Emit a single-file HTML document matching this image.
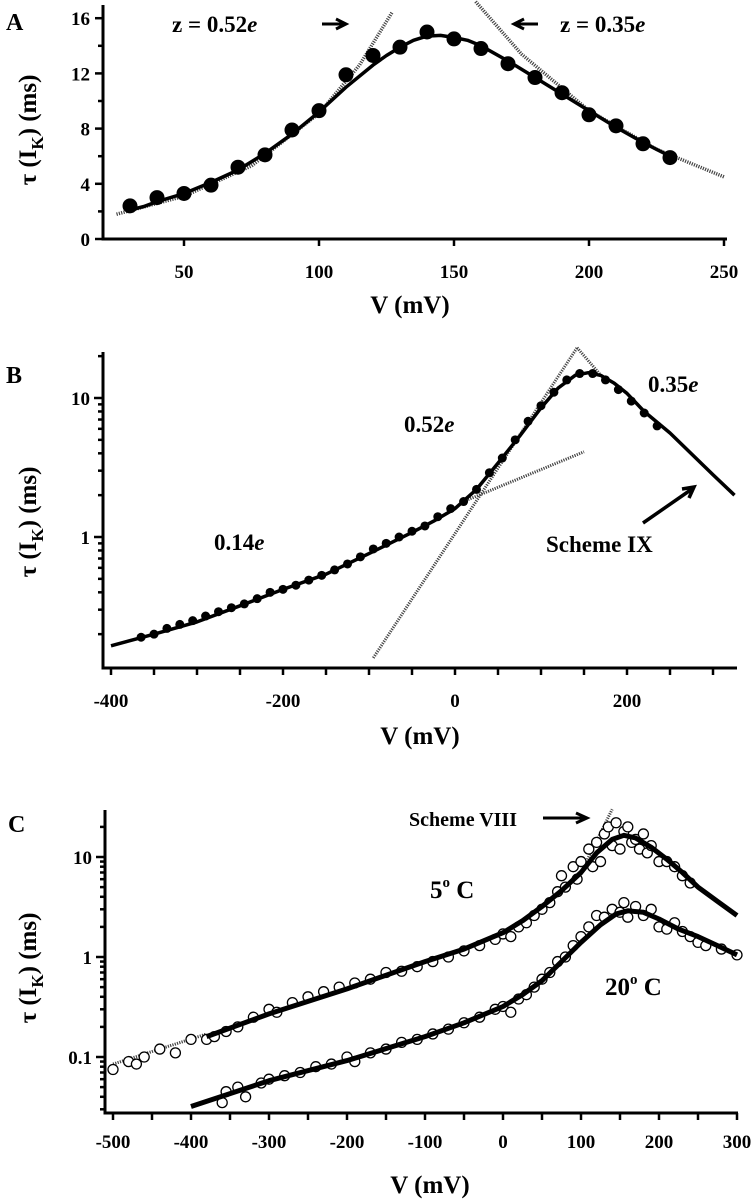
<!DOCTYPE html>
<html><head><meta charset="utf-8"><style>
body{margin:0;background:#fff}
svg{display:block;font-family:"Liberation Serif",serif;font-weight:bold}
</style></head><body>
<svg id="fig" width="756" height="1199" viewBox="0 0 756 1199" xmlns="http://www.w3.org/2000/svg">
<g id="gA"></g>
<g id="gB"></g>
<g id="gC"></g>
</svg>
<script>
// ---------- Panel A data ----------
const aV = [30,40,50,60,70,80,90,100,110,120,130,140,150,160,170,180,190,200,210,220,230];
const aTau = [2.4,3.0,3.3,3.9,5.2,6.1,7.9,9.3,11.9,13.3,13.9,15.0,14.5,13.8,12.7,11.7,10.6,9.0,8.2,6.9,5.9];
const aFitV = [30,35,40,50,60,70,80,90,100,110,120,125,130,135,140,145,150,155,160,170,180,190,200,210,220,230];
const aFit = [2.1,2.35,2.7,3.3,4.1,5.0,6.2,7.6,9.2,11.0,12.6,13.3,13.9,14.4,14.7,14.75,14.6,14.4,14.0,12.9,11.7,10.5,9.3,8.1,7.0,6.0];
const aDotLeftV = [25,50,75,100,115,127];
const aDotLeft = [1.8,3.1,5.3,9.1,12.6,16.4];
const aDotRightV = [158,175,200,225,250];
const aDotRight = [17.2,13.4,9.3,6.5,4.5];
const aXTicks = [50,100,150,200,250];
const aYTicks = [0,4,8,12,16];
// ---------- Panel B data ----------
const bV = [-365,-350,-335,-320,-305,-290,-275,-260,-245,-230,-215,-200,-185,-170,-155,-140,-125,-110,-95,-80,-65,-50,-35,-20,-5,10,25,40,55,70,85,100,115,130,145,160,175,190,205,220,235];
const bTau = [0.19,0.2,0.22,0.235,0.25,0.27,0.29,0.31,0.33,0.36,0.40,0.42,0.45,0.49,0.53,0.58,0.64,0.72,0.82,0.9,1.0,1.1,1.2,1.4,1.6,1.8,2.2,2.9,3.7,5.0,6.8,8.8,11,13.5,15,15,13.5,11.5,9.5,7.8,6.3];
const bFitV = [-400,-350,-300,-250,-200,-150,-100,-50,-25,0,25,50,75,100,120,140,155,170,185,200,220,250,300,325];
const bFit = [0.165,0.2,0.245,0.32,0.42,0.54,0.76,1.08,1.3,1.6,2.2,3.4,5.3,8.5,11.8,14.6,15.2,14.5,12.8,10.8,8.0,5.6,2.8,2.0];
const bDot014V = [10,150];
const bDot014 = [1.8,4.1];
const bDot052V = [-95,142];
const bDot052 = [0.135,23];
const bDot035V = [142,172];
const bDot035 = [23,14];
const bXTicks = [-400,-200,0,200];
const bYTicks = [1,10];
// ---------- Panel C data ----------
const c5FitV = [-380,-300,-200,-100,-50,0,25,50,75,100,120,140,155,170,190,210,230,250,275,300];
const c5Fit = [0.16,0.27,0.48,0.9,1.2,1.75,2.3,3.2,4.6,7,11,15,16.5,15.5,12.5,9.5,7,5,3.6,2.6];
const c20FitV = [-400,-300,-200,-100,-50,0,25,50,75,100,125,145,160,180,200,225,250,275,300];
const c20Fit = [0.032,0.058,0.092,0.16,0.22,0.32,0.42,0.58,0.9,1.4,2.1,2.7,2.9,2.8,2.4,1.9,1.6,1.3,1.05];
const c5Open = [[-500,.075],[-480,.09],[-470,.085],[-460,.1],[-440,.12],[-420,.11],[-400,.15],[-380,.15],[-370,.16],[-355,.18],[-340,.2],[-320,.25],[-300,.3],[-290,.28],[-270,.35],[-250,.4],[-230,.45],[-210,.5],[-190,.55],[-170,.6],[-150,.7],[-130,.72],[-110,.8],[-90,.9],[-70,1.0],[-50,1.15],[-30,1.3],[-10,1.5],[0,1.7],[10,1.6],[20,2.0],[30,2.2],[40,2.6],[50,3.0],[60,3.5],[70,4.5],[75,6.5],[80,5],[90,8],[95,6],[100,9],[110,12],[115,8],[120,14],[125,9],[130,17],[135,20],[140,13],[145,22],[150,12],[155,18],[160,20],[165,14],[170,15],[175,12],[180,17],[185,11],[190,13],[200,9],[210,9],[220,8],[230,6.5],[240,5.5]];
const c20Open = [[-360,.035],[-355,.045],[-340,.05],[-330,.04],[-310,.055],[-300,.06],[-280,.065],[-260,.07],[-240,.08],[-220,.085],[-200,.1],[-190,.09],[-170,.11],[-150,.12],[-130,.14],[-110,.15],[-90,.17],[-70,.19],[-50,.22],[-30,.25],[-10,.3],[0,.32],[10,.28],[20,.38],[30,.42],[40,.5],[50,.6],[60,.7],[70,.9],[80,1.0],[90,1.3],[100,1.6],[110,2.0],[120,2.6],[130,2.5],[140,3.0],[150,2.8],[155,3.5],[160,2.5],[170,3.2],[180,2.6],[190,3.0],[200,2.0],[210,1.9],[220,2.2],[230,1.8],[240,1.6],[250,1.4],[260,1.3],[280,1.2],[300,1.05]];
const cDotLowV = [-500,-380];
const cDotLow = [0.085,0.17];
const cDotHighV = [100,140];
const cDotHigh = [7,30];
const cXTicks = [-500,-400,-300,-200,-100,0,100,200,300];
const cYTicks = [0.1,1,10];

const NS = "http://www.w3.org/2000/svg";
function mk(parent, tag, attrs, text){
  const e = document.createElementNS(NS, tag);
  for (const k in attrs) e.setAttribute(k, attrs[k]);
  if (text !== undefined) e.textContent = text;
  parent.appendChild(e);
  return e;
}
function pathFrom(xs, ys, sx, sy){
  return xs.map((v,i)=>(i?'L':'M')+sx(v).toFixed(1)+','+sy(ys[i]).toFixed(1)).join(' ');
}
function yTitle(g, cx, cy){
  const t = mk(g,'text',{x:cx,y:cy,transform:`rotate(-90 ${cx} ${cy})`,'text-anchor':'middle','font-size':25});
  
  
  t.innerHTML = 'τ (I<tspan font-size="17" dy="7">K</tspan><tspan dy="-7">) (ms)</tspan>';
}

// ===== Panel A =====
(function(){
  const g = document.getElementById('gA');
  const x = v => 184 + (v-50)*2.7;
  const y = t => 239 - t*13.8;
  const ax = mk(g,'path',{d:'M103,5 L103,239 L727,239',fill:'none',stroke:'#000','stroke-width':3});
  
  
  for (let t=0;t<=16;t+=2){ mk(g,'line',{x1:103,x2:t%4?98:95,y1:y(t),y2:y(t),stroke:'#000','stroke-width':2.5}); }
  aYTicks.forEach(t=>{
    const l = mk(g,'text',{x:90,y:y(t)+7,'text-anchor':'end','font-size':19},String(t));
    
    
  });
  aXTicks.forEach(v=>{
    mk(g,'line',{x1:x(v),x2:x(v),y1:239,y2:246,stroke:'#000','stroke-width':2.5});
    const l = mk(g,'text',{x:x(v),y:278,'text-anchor':'middle','font-size':19},String(v));
    
    
  });
  const xt = mk(g,'text',{x:410,y:313,'text-anchor':'middle','font-size':25},'V (mV)');
  
  
  yTitle(g,36,130);
  const pl = mk(g,'text',{x:6,y:30,'font-size':24},'A');
  
  
  const d1 = mk(g,'path',{d:pathFrom(aDotLeftV,aDotLeft,x,y),fill:'none',stroke:'#444','stroke-width':3.5,'stroke-dasharray':'1.2 1.2'});
  
  
  const d2 = mk(g,'path',{d:pathFrom(aDotRightV,aDotRight,x,y),fill:'none',stroke:'#444','stroke-width':3.5,'stroke-dasharray':'1.2 1.2'});
  
  
  const f = mk(g,'path',{d:pathFrom(aFitV,aFit,x,y),fill:'none',stroke:'#000','stroke-width':3.5,'stroke-linejoin':'round'});
  
  
  aV.forEach((v,i)=>{
    const c = mk(g,'circle',{cx:x(v),cy:y(aTau[i]),r:7.5,fill:'#000'});
    
    
  });
  const l1 = mk(g,'text',{x:172,y:32,'font-size':23},''); l1.innerHTML='z = 0.52<tspan font-style="italic">e</tspan>';
  
  
  const l2 = mk(g,'text',{x:560,y:32,'font-size':23},''); l2.innerHTML='z = 0.35<tspan font-style="italic">e</tspan>';
  
  
  mk(g,'path',{d:'M322,24 L344,24 M336,19 L346,24 L336,29',fill:'none',stroke:'#000','stroke-width':3});
  mk(g,'path',{d:'M538,24 L516,24 M524,19 L514,24 L524,29',fill:'none',stroke:'#000','stroke-width':3});
})();

// ===== Panel B =====
(function(){
  const g = document.getElementById('gB');
  const x = v => 455 + v*0.86;
  const y = t => 537 - Math.log10(t)*139;
  const ax = mk(g,'path',{d:'M103,352 L103,668 L737,668',fill:'none',stroke:'#000','stroke-width':3});
  
  
  [0.1,1,10].forEach(dec=>{
    for(let k=1;k<10;k++){ const t=dec*k; const yy=y(t); if(yy<352||yy>668) continue;
      mk(g,'line',{x1:103,x2:k===1?94:98,y1:yy,y2:yy,stroke:'#000','stroke-width':2.5}); }
  });
  bYTicks.forEach(t=>{
    const l = mk(g,'text',{x:90,y:y(t)+7,'text-anchor':'end','font-size':19},String(t));
    
    
  });
  for(let v=-400;v<=300;v+=50) mk(g,'line',{x1:x(v),x2:x(v),y1:668,y2:675,stroke:'#000','stroke-width':2.5});
  bXTicks.forEach(v=>{
    const l = mk(g,'text',{x:x(v),y:707,'text-anchor':'middle','font-size':19},String(v));
    
    
  });
  const xt = mk(g,'text',{x:420,y:744,'text-anchor':'middle','font-size':25},'V (mV)');
  
  
  yTitle(g,36,522);
  const pl = mk(g,'text',{x:6,y:383,'font-size':24},'B');
  
  
  [[bDot014V,bDot014,'asymptote-014e'],[bDot052V,bDot052,'asymptote-052e'],[bDot035V,bDot035,'asymptote-035e']].forEach(([xs,ys,n])=>{
    const p = mk(g,'path',{d:pathFrom(xs,ys,x,y),fill:'none',stroke:'#444','stroke-width':3,'stroke-dasharray':'1.2 1.2'});
    
    
  });
  const f = mk(g,'path',{d:pathFrom(bFitV,bFit,x,y),fill:'none',stroke:'#000','stroke-width':3.5,'stroke-linejoin':'round'});
  
  
  bV.forEach((v,i)=>{
    const c = mk(g,'circle',{cx:x(v),cy:y(bTau[i]),r:4.5,fill:'#000'});
    
    
  });
  [['0.35',648,392,'label-035e'],['0.52',404,432,'label-052e'],['0.14',214,550,'label-014e']].forEach(([s,xx,yy,n])=>{
    const t = mk(g,'text',{x:xx,y:yy,'font-size':23},''); t.innerHTML=s+'<tspan font-style="italic">e</tspan>';
    
    
  });
  const s = mk(g,'text',{x:546,y:552,'font-size':23},'Scheme IX');
  
  
  mk(g,'path',{d:'M643,523 L692,489 M682,489 L694,487 L689,498',fill:'none',stroke:'#000','stroke-width':3.5});
})();

// ===== Panel C =====
(function(){
  const g = document.getElementById('gC');
  const x = v => 503 + v*0.78;
  const y = t => 957 - Math.log10(t)*100;
  const ax = mk(g,'path',{d:'M105,810 L105,1113 L738,1113',fill:'none',stroke:'#000','stroke-width':3});
  
  
  [0.01,0.1,1,10].forEach(dec=>{
    for(let k=1;k<10;k++){ const t=dec*k; const yy=y(t); if(yy<810||yy>1113) continue;
      mk(g,'line',{x1:105,x2:k===1?96:100,y1:yy,y2:yy,stroke:'#000','stroke-width':2.5}); }
  });
  cYTicks.forEach(t=>{
    const l = mk(g,'text',{x:92,y:y(t)+7,'text-anchor':'end','font-size':19},String(t));
    
    
  });
  for(let v=-500;v<=300;v+=50) mk(g,'line',{x1:x(v),x2:x(v),y1:1113,y2:1120,stroke:'#000','stroke-width':2.5});
  cXTicks.forEach(v=>{
    const l = mk(g,'text',{x:x(v),y:1148,'text-anchor':'middle','font-size':19},String(v));
    
    
  });
  const xt = mk(g,'text',{x:430,y:1193,'text-anchor':'middle','font-size':25},'V (mV)');
  
  
  yTitle(g,36,968);
  const pl = mk(g,'text',{x:8,y:832,'font-size':24},'C');
  
  
  [[cDotLowV,cDotLow,'extrapolation-low'],[cDotHighV,cDotHigh,'scheme-viii-line']].forEach(([xs,ys,n])=>{
    const p = mk(g,'path',{d:pathFrom(xs,ys,x,y),fill:'none',stroke:'#444','stroke-width':3,'stroke-dasharray':'1.2 1.2'});
    
    
  });
  c5Open.forEach(p=>{
    const c = mk(g,'circle',{cx:x(p[0]),cy:y(p[1]),r:5,fill:'#fff',stroke:'#000','stroke-width':1.3});
    
    
  });
  c20Open.forEach(p=>{
    const c = mk(g,'circle',{cx:x(p[0]),cy:y(p[1]),r:5,fill:'#fff',stroke:'#000','stroke-width':1.3});
    
    
  });
  const f5 = mk(g,'path',{d:pathFrom(c5FitV,c5Fit,x,y),fill:'none',stroke:'#000','stroke-width':5,'stroke-linejoin':'round'});
  
  
  const f20 = mk(g,'path',{d:pathFrom(c20FitV,c20Fit,x,y),fill:'none',stroke:'#000','stroke-width':5,'stroke-linejoin':'round'});
  
  
  const s = mk(g,'text',{x:517,y:826,'text-anchor':'end','font-size':20},'Scheme VIII');
  
  
  mk(g,'path',{d:'M543,818 L585,818 M576,813 L587,818 L576,823',fill:'none',stroke:'#000','stroke-width':3});
  const t5 = mk(g,'text',{x:430,y:898,'font-size':25},''); t5.innerHTML='5<tspan font-size="15" dy="-11">o</tspan><tspan dy="11"> C</tspan>';
  
  
  const t20 = mk(g,'text',{x:605,y:995,'font-size':25},''); t20.innerHTML='20<tspan font-size="15" dy="-11">o</tspan><tspan dy="11"> C</tspan>';
  
  
})();
</script>
</body></html>
